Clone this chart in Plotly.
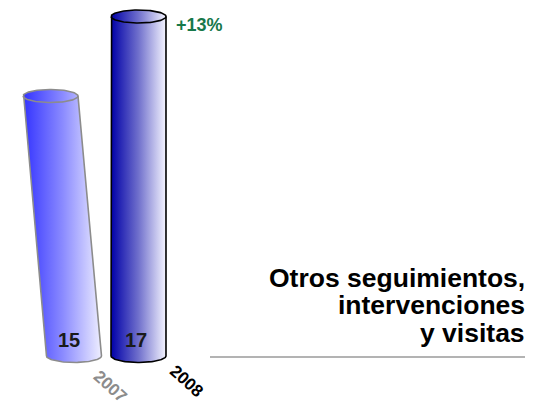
import numpy as np
import plotly.graph_objects as go

# --- data -----------------------------------------------------------------
years = ["2007", "2008"]
values = [15, 17]
title_lines = ["Otros seguimientos,", "intervenciones", "y visitas"]

# --- geometry / style -----------------------------------------------------
W, H = 547, 401
Y_TOP, Y_BOTTOM = 17.415, 7.327        # value axis range (truncated axis)
X_LEFT, X_RIGHT = -1.147, 7.333         # category axis range
BASE = 8.46                             # value where the cylinders stand
PX_X = W / (X_RIGHT - X_LEFT)
PX_Y = H / (Y_TOP - Y_BOTTOM)

radius = 27.5 / PX_X                    # cylinder half width (x units)
ry = 6.5 / PX_Y                         # ellipse half height (y units)

bar_styles = [
    dict(tilt=-23.5 / PX_X, outline="#8c8c8c", label_color="#8c8c8c",
         scale=[[0, "#3434ff"], [0.5, "#8a8aff"], [1, "#eeeeff"]],
         label_shift=-5, year_shift=(36, 31)),
    dict(tilt=0.0, outline="#000000", label_color="#000000",
         scale=[[0, "#0000a8"], [0.5, "#7070cc"], [1, "#f4f4ff"]],
         label_shift=-2, year_shift=(48, 26)),
]

FONT = "Arial, Liberation Sans, sans-serif"

fig = go.Figure()

for i, (yr, v, st) in enumerate(zip(years, values, bar_styles)):
    xb, vb = float(i), BASE
    xt, vt = i + st["tilt"], float(v)

    # cylinder body including the top ellipse outline and bottom front arc
    th_top = np.linspace(np.pi, 0, 60)
    th_bot = np.linspace(0, -np.pi, 60)
    xs = [xb - radius, xt - radius]
    ys = [vb, vt]
    xs += list(xt + radius * np.cos(th_top))
    ys += list(vt + ry * np.sin(th_top))
    xs += [xb + radius]
    ys += [vb]
    xs += list(xb + radius * np.cos(th_bot))
    ys += list(vb + ry * np.sin(th_bot))
    xs.append(xs[0])
    ys.append(ys[0])

    fig.add_trace(go.Scatter(
        x=xs, y=ys, mode="lines", fill="toself",
        fillgradient=dict(type="horizontal", colorscale=st["scale"]),
        line=dict(color=st["outline"], width=1.6),
        hoverinfo="skip", showlegend=False,
    ))

    # front rim of the top ellipse
    th_front = np.linspace(np.pi, 2 * np.pi, 60)
    fig.add_trace(go.Scatter(
        x=xt + radius * np.cos(th_front), y=vt + ry * np.sin(th_front),
        mode="lines", line=dict(color=st["outline"], width=1.6),
        hoverinfo="skip", showlegend=False,
    ))

    # value label near the foot of each cylinder
    fig.add_annotation(
        x=xb, y=BASE, text=f"<b>{v}</b>", showarrow=False,
        xanchor="center", yanchor="middle",
        xshift=st["label_shift"], yshift=16,
        font=dict(family=FONT, size=20, color="#1a1a1a"),
    )

    # rotated year label
    dx, dy = st["year_shift"]
    fig.add_annotation(
        x=xb, y=BASE, text=f"<b>{yr}</b>", showarrow=False, textangle=42,
        xanchor="center", yanchor="middle", xshift=dx, yshift=-dy,
        font=dict(family=FONT, size=17, color=st["label_color"]),
    )

# growth label next to the taller cylinder
growth = (values[1] - values[0]) / values[0] * 100
fig.add_annotation(
    x=1, y=values[1], text=f"<b>+{growth:.0f}%</b>", showarrow=False,
    xanchor="left", yanchor="middle", xshift=36, yshift=-8.5,
    font=dict(family=FONT, size=18, color="#17784a"),
)

# right-aligned title block
title_centres = [277.5, 305, 333]
for line, cy in zip(title_lines, title_centres):
    fig.add_annotation(
        xref="paper", yref="paper", x=527 / W, y=1 - cy / H,
        text=f"<b>{line}</b>", showarrow=False,
        xanchor="right", yanchor="middle",
        font=dict(family=FONT, size=26.5, color="#000000"),
    )

# rule under the title
fig.add_shape(
    type="line", xref="paper", yref="paper",
    x0=210 / W, x1=525 / W, y0=1 - 357 / H, y1=1 - 357 / H,
    line=dict(color="#9a9a9a", width=1.5),
)

fig.update_xaxes(range=[X_LEFT, X_RIGHT], visible=False, fixedrange=True)
fig.update_yaxes(range=[Y_BOTTOM, Y_TOP], visible=False, fixedrange=True)
fig.update_layout(
    width=W, height=H,
    margin=dict(l=0, r=0, t=0, b=0, pad=0),
    paper_bgcolor="white", plot_bgcolor="white",
    showlegend=False,
)

fig.write_html("out.html", config={"displayModeBar": False})
